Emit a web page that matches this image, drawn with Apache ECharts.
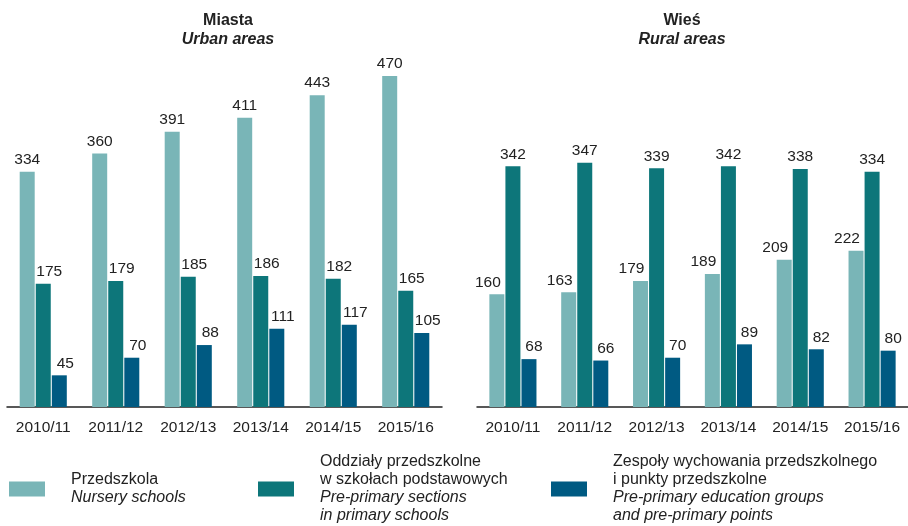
<!DOCTYPE html>
<html>
<head>
<meta charset="utf-8">
<script src="https://cdn.jsdelivr.net/npm/echarts@6/dist/echarts.min.js"></script>
<style>
    html, body { margin: 0; padding: 0; background: #fff; }
    #chart { width: 908px; height: 526px; }
</style>
</head>
<body>
<div id="chart"></div>
<script>
var categories = ['2010/11', '2011/12', '2012/13', '2013/14', '2014/15', '2015/16'];

// Miasta / Urban areas
var urbanNursery = [334, 360, 391, 411, 443, 470];
var urbanSections = [175, 179, 185, 186, 182, 165];
var urbanPoints = [45, 70, 88, 111, 117, 105];

// Wieś / Rural areas
var ruralNursery = [160, 163, 179, 189, 209, 222];
var ruralSections = [342, 347, 339, 342, 338, 334];
var ruralPoints = [68, 66, 70, 89, 82, 80];

var seriesNames = ['Przedszkola', 'Oddziały przedszkolne', 'Zespoły wychowania przedszkolnego'];
var legendPl = [
    ['Przedszkola'],
    ['Oddziały przedszkolne', 'w szkołach podstawowych'],
    ['Zespoły wychowania przedszkolnego', 'i punkty przedszkolne']
];
var legendEn = [
    ['Nursery schools'],
    ['Pre-primary sections', 'in primary schools'],
    ['Pre-primary education groups', 'and pre-primary points']
];
var colorList = ['#79b5b7', '#0d767a', '#005a82'];
var textColor = '#222';
var font = 'Liberation Sans, Arial, sans-serif';

function legendText(name) {
    var i = seriesNames.indexOf(name);
    var lines = [];
    legendPl[i].forEach(function (t) { lines.push('{pl|' + t + '}'); });
    legendEn[i].forEach(function (t) { lines.push('{en|' + t + '}'); });
    return lines.join('\n');
}

function makeLegend(i, left, top) {
    return {
        data: [seriesNames[i]],
        left: left,
        top: top,
        padding: 0,
        itemWidth: 36,
        itemHeight: 15,
        icon: 'rect',
        selectedMode: false,
        formatter: legendText,
        textStyle: {
            padding: [0, 0, 0, 21],
            rich: {
                pl: { fontSize: 16, lineHeight: 18, color: textColor, fontFamily: font },
                en: { fontSize: 16, lineHeight: 18, color: textColor, fontFamily: font, fontStyle: 'italic' }
            }
        }
    };
}

function makeBar(name, data, idx, color, dx) {
    return {
        name: name,
        type: 'bar',
        xAxisIndex: idx,
        yAxisIndex: idx,
        data: data,
        barWidth: 15,
        barGap: '7%',
        itemStyle: { color: color },
        label: {
            show: true,
            position: 'top',
            distance: 4,
            offset: [dx, 0],
            color: textColor,
            fontSize: 15.5,
            fontFamily: font
        }
    };
}

function makeXAxis(idx) {
    return {
        type: 'category',
        gridIndex: idx,
        data: categories,
        axisTick: { show: false },
        axisLine: { lineStyle: { color: textColor, width: 1.5 } },
        axisLabel: { interval: 0, color: textColor, fontSize: 15.5, fontFamily: font, margin: 13 }
    };
}

function makeYAxis(idx) {
    return { type: 'value', gridIndex: idx, min: 0, max: 500, show: false, splitLine: { show: false } };
}

function makeTitle(text, sub, center) {
    return {
        text: text,
        subtext: sub,
        left: center,
        top: 8,
        textAlign: 'center',
        itemGap: 3,
        textStyle: { fontSize: 16, fontWeight: 'bold', color: textColor, fontFamily: font },
        subtextStyle: { fontSize: 16, fontWeight: 'bold', fontStyle: 'italic', color: textColor, fontFamily: font }
    };
}

var myChart = echarts.init(document.getElementById('chart'));
var option = {
    animation: false,
    title: [
        makeTitle('Miasta', 'Urban areas', 223),
        makeTitle('Wieś', 'Rural areas', 677)
    ],
    legend: [
        makeLegend(0, 9, 472),
        makeLegend(1, 258, 454),
        makeLegend(2, 551, 454)
    ],
    grid: [
        { left: 7, width: 435, top: 55, bottom: 119 },
        { left: 477, width: 435, top: 55, bottom: 119 }
    ],
    xAxis: [makeXAxis(0), makeXAxis(1)],
    yAxis: [makeYAxis(0), makeYAxis(1)],
    series: [
        makeBar(seriesNames[0], urbanNursery, 0, colorList[0], 0),
        makeBar(seriesNames[1], urbanSections, 0, colorList[1], 6),
        makeBar(seriesNames[2], urbanPoints, 0, colorList[2], 6),
        makeBar(seriesNames[0], ruralNursery, 1, colorList[0], -9),
        makeBar(seriesNames[1], ruralSections, 1, colorList[1], 0),
        makeBar(seriesNames[2], ruralPoints, 1, colorList[2], 5)
    ]
};
myChart.setOption(option);
</script>
</body>
</html>
